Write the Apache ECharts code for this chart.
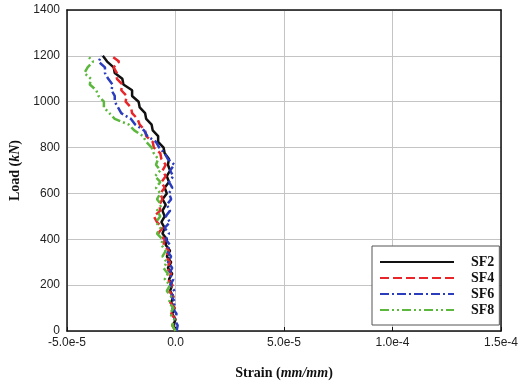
<!DOCTYPE html>
<html>
<head>
<meta charset="utf-8">
<script src="https://cdn.jsdelivr.net/npm/echarts@6/dist/echarts.min.js"></script>
<style>
  html, body { margin: 0; padding: 0; background: #fff; }
  #chart { width: 521px; height: 387px; }
</style>
</head>
<body>
<div id="chart"></div>
<script>
// 荷载 (kN)
const loads = [
  0, 25, 50, 75, 100, 125, 150, 175, 200, 225, 250, 275, 300, 325, 350, 375,
  400, 425, 450, 475, 500, 525, 550, 575, 600, 625, 650, 675, 700, 725, 750, 775,
  800, 825, 850, 875, 900, 925, 950, 975, 1000, 1025, 1050, 1075, 1100, 1125, 1150, 1175, 1200
]

// 应变, 单位 1e-5 mm/mm
const strainScale = 1e-5
const strainSF2 = [
  0.0, -0.1, 0.0, -0.15, -0.05, -0.2, -0.1, -0.25, -0.15, -0.3, -0.15, -0.35, -0.2, -0.4, -0.25, -0.45,
  -0.4, -0.6, -0.5, -0.65, -0.5, -0.6, -0.45, -0.6, -0.4, -0.5, -0.3, -0.4, -0.25, -0.35, -0.3, -0.5,
  -0.55, -0.8, -0.8, -1.05, -1.1, -1.35, -1.4, -1.65, -1.7, -2.0, -2.0, -2.4, -2.45, -2.8, -2.85, -3.15, -3.35
]
const strainSF4 = [
  0.0, -0.15, 0.0, -0.2, -0.05, -0.25, -0.1, -0.3, -0.15, -0.35, -0.2, -0.4, -0.25, -0.45, -0.3, -0.55,
  -0.5, -0.8, -0.6, -0.85, -1.0, -0.7, -0.75, -0.6, -0.7, -0.5, -0.65, -0.45, -0.6, -0.45, -0.65, -0.7,
  -1.0, -1.05, -1.35, -1.4, -1.65, -1.75, -2.0, -2.05, -2.3, -2.25, -2.5, -2.45, -2.7, -2.7, -2.85, -2.6, -2.95
]
const strainSF6 = [
  0.05, 0.1, -0.05, 0.05, -0.15, 0.0, -0.2, -0.05, -0.25, -0.1, -0.3, -0.15, -0.35, -0.2, -0.4, -0.25,
  -0.45, -0.3, -0.5, -0.25, -0.45, -0.25, -0.4, -0.2, -0.3, -0.15, -0.3, -0.1, -0.25, -0.05, -0.35, -0.5,
  -0.75, -0.9, -1.3, -1.45, -1.85, -2.05, -2.5, -2.65, -2.8, -2.8, -2.95, -2.9, -3.1, -3.25, -3.25, -3.55, -3.4
]
const strainSF8 = [
  0.0, -0.15, -0.05, -0.25, -0.1, -0.3, -0.2, -0.4, -0.25, -0.5, -0.35, -0.55, -0.4, -0.6, -0.45, -0.65,
  -0.6, -0.85, -0.7, -0.9, -0.7, -0.85, -0.65, -0.85, -0.7, -0.9, -0.7, -0.95, -0.7, -0.9, -0.8, -1.0,
  -1.1, -1.35, -1.5, -1.9, -2.15, -2.8, -3.05, -3.3, -3.3, -3.55, -3.65, -3.95, -3.9, -4.2, -4.05, -3.8, -4.05
]

const seriesNames = ['SF2', 'SF4', 'SF6', 'SF8']
const seriesColors = ['#111111', '#e8262a', '#2b3dbd', '#5cb83c']
const seriesDash = ['solid', [9, 4], [9, 3, 2, 3], [9, 3, 2, 3, 2, 3]]
const seriesStrains = [strainSF2, strainSF4, strainSF6, strainSF8]

const serifFont = '"Liberation Serif", "Times New Roman", serif'
const sansFont = '"Liberation Sans", Arial, sans-serif'

const chart = echarts.init(document.getElementById('chart'))

// 刻度标签
const strainLabel = (v) => (v === 0 ? '0.0' : (v * strainScale).toExponential(1))

const nameRich = {
  b: { fontFamily: serifFont, fontWeight: 'bold', fontSize: 14, color: '#111' },
  i: { fontFamily: serifFont, fontWeight: 'bold', fontStyle: 'italic', fontSize: 14, color: '#111' }
}

chart.setOption({
  animation: false,
  grid: { left: 67, right: 16, top: 10, bottom: 56 },
  legend: {
    orient: 'vertical',
    left: 372,
    top: 246,
    padding: [9, 5, 8, 7],
    itemWidth: 74,
    itemHeight: 14,
    itemGap: 2,
    backgroundColor: '#fff',
    borderColor: '#555',
    borderWidth: 1,
    itemStyle: { opacity: 0 },
    lineStyle: { width: 2 },
    textStyle: {
      fontFamily: serifFont,
      fontWeight: 'bold',
      fontSize: 14,
      color: '#111',
      padding: [0, 0, 0, 12]
    },
    data: seriesNames
  },
  xAxis: [
    {
      type: 'value',
      min: -5,
      max: 15,
      interval: 5,
      name: '{b|Strain (}{i|mm/mm}{b|)}',
      nameLocation: 'middle',
      nameGap: 35,
      nameTextStyle: { rich: nameRich },
      axisLine: { lineStyle: { color: '#111', width: 1.5 } },
      axisTick: { inside: true, length: 4, lineStyle: { color: '#111' } },
      axisLabel: { formatter: strainLabel, fontFamily: sansFont, fontSize: 12, color: '#222', margin: 6 },
      splitLine: { lineStyle: { color: '#c4c4c4', width: 1 } }
    },
    {
      type: 'value',
      position: 'top',
      min: -5,
      max: 15,
      z: 5,
      axisLine: { onZero: false, lineStyle: { color: '#111', width: 1.5 } },
      axisTick: { show: false },
      axisLabel: { show: false },
      splitLine: { show: false }
    }
  ],
  yAxis: [
    {
      type: 'value',
      min: 0,
      max: 1400,
      interval: 200,
      name: '{b|Load (}{i|kN}{b|)}',
      nameLocation: 'middle',
      nameRotate: 90,
      nameGap: 43,
      nameTextStyle: { rich: nameRich },
      axisLine: { show: true, onZero: false, lineStyle: { color: '#111', width: 1.5 } },
      axisTick: { show: false },
      axisLabel: { formatter: (v) => String(v), fontFamily: sansFont, fontSize: 12, color: '#222', margin: 7 },
      splitLine: { lineStyle: { color: '#c4c4c4', width: 1 } }
    },
    {
      type: 'value',
      position: 'right',
      min: 0,
      max: 1400,
      z: 5,
      axisLine: { show: true, onZero: false, lineStyle: { color: '#111', width: 1.5 } },
      axisTick: { show: false },
      axisLabel: { show: false },
      splitLine: { show: false }
    }
  ],
  series: seriesNames.map((name, i) => ({
    name,
    type: 'line',
    xAxisIndex: 0,
    yAxisIndex: 0,
    symbol: 'none',
    color: seriesColors[i],
    lineStyle: { color: seriesColors[i], width: 2.5, type: seriesDash[i] },
    data: loads.map((load, k) => [seriesStrains[i][k], load])
  }))
})
</script>
</body>
</html>
